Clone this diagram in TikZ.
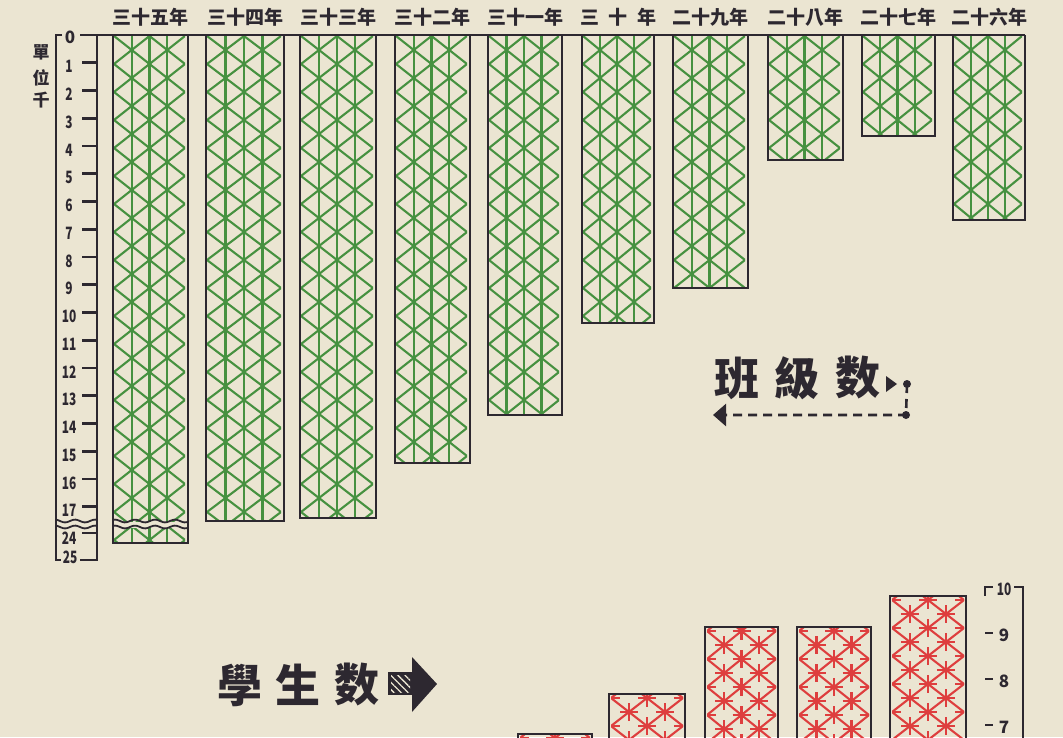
\documentclass[tikz,border=0pt]{standalone}
\usepackage{fontspec}
\usepackage{graphicx}
\setmainfont{Noto Sans CJK TC}
\usetikzlibrary{arrows.meta,patterns.meta}

\definecolor{paper}{RGB}{235,229,210}
\definecolor{ink}{RGB}{45,40,48}
\definecolor{leaf}{RGB}{70,145,64}
\definecolor{brick}{RGB}{222,62,62}

\tikzset{
	frame/.style={ink, line width=2.8pt},
	gline/.style={leaf, line width=2.1pt},
	rline/.style={brick, line width=2.1pt},
	year/.style={font=\fontsize{19}{19}\selectfont\bfseries, text=ink, inner sep=0pt},
	num/.style={font=\fontsize{17}{17}\selectfont\bfseries, text=ink, inner sep=0pt},
	big/.style={font=\fontsize{45}{45}\selectfont\bfseries, text=ink, inner sep=0pt},
}

\begin{document}
\begin{tikzpicture}[x=1pt,y=-1pt]
\clip (0,0) rectangle (1063,737);
\fill[paper] (0,0) rectangle (1063,737);

% green bars
\foreach \x/\xr/\yb/\lab [count=\i] in {
	113/188/543/三十五年,206/284/521/三十四年,300/376/518/三十三年,%
	395/470/463/三十二年,488/562/415/三十一年,%
	582/654/323/三\hspace{.5em}十\hspace{.5em}年,%
	673/748/288/二十九年,768/843/160/二十八年,862/935/136/二十七年,%
	953/1025/220/二十六年%
}{
	\begin{scope}
		\clip (\x+1,35) rectangle (\xr-3,\yb);
		\foreach \k in {-2,...,18}{
			\draw[gline] (\x+1,{36+28*\k}) -- (\xr-3,{92+28*\k});
			\draw[gline] (\xr-3,{36+28*\k}) -- (\x+1,{92+28*\k});
		}
		\foreach \c in {1,2,3}{
			\draw[gline] ({\x+1+\c*(\xr-\x-4)/4},35) -- ({\x+1+\c*(\xr-\x-4)/4},\yb);
		}
	\end{scope}
	\draw[frame] (\x,35) -- (\x,\yb) -- (\xr,\yb) -- (\xr,35);
	\node[year] (y\i) at ({(\x+\xr)/2},17) {\lab};
}

% break in the first bar
\fill[paper] (114,522) rectangle (187,528);
\foreach \w in {521,527}{
	\draw[ink, line width=1.8pt] plot[domain=113:188, samples=40, smooth] (\x,{\w+1.4*sin(\x*18)});
	\draw[ink, line width=1.8pt] plot[domain=56:97, samples=24, smooth] (\x,{\w+1.4*sin(\x*18)});
}

% scale of the green bars
\draw[frame] (62,35) -| (56,560) -- (61,560);
\draw[frame] (80,35) -- (1025,35);
\draw[frame] (97,35) -- (97,560) -- (80,560);
\node[num] (n0) at (70,37) {0};
\foreach \v in {1,...,17}{
	\draw[frame] (82,{35+27.75*\v}) -- (97,{35+27.75*\v});
	\node[num] (n\v) at (69,{39+27.75*\v}) {\scalebox{.7}[1]{\v}};
}
\draw[frame] (82,533) -- (97,533);
\node[num] (n24) at (69,538) {\scalebox{.7}[1]{24}};
\node[num] (n25) at (70,557) {\scalebox{.7}[1]{25}};

\node[num] (u1) at (41,52) {單};
\node[num] (u2) at (41,78) {位};
\node[num] (u3) at (41,100) {千};

% red bars
\foreach \x/\xr/\yt [count=\i] in {
	518/592/734,609/685/694,705/778/627,797/871/627,890/966/596%
}{
	\begin{scope}
		\clip (\x+2,\yt) rectangle (\xr-2,740);
		\foreach \k in {-2,...,6}{
			\draw[rline] (\x+2,{\yt+4+28*\k}) -- (\xr-2,{\yt+60+28*\k});
			\draw[rline] (\xr-2,{\yt+4+28*\k}) -- (\x+2,{\yt+60+28*\k});
			\foreach \c in {0,...,4}{
				\pgfmathsetmacro\sx{\x+2+\c*(\xr-\x-4)/4}
				\pgfmathsetmacro\sy{\yt+4+28*\k+14*mod(\c,2)}
				\draw[rline] (\sx-9,\sy) -- (\sx+9,\sy);
			}
			\foreach \c in {1,2,3}{
				\pgfmathsetmacro\sx{\x+2+\c*(\xr-\x-4)/4}
				\pgfmathsetmacro\sy{\yt+4+28*\k+14*mod(\c,2)}
				\draw[rline] (\sx,\sy-9) -- (\sx,\sy+9);
			}
		}
	\end{scope}
	\draw[frame] (\x,745) -- (\x,\yt) -- (\xr,\yt) -- (\xr,745);
}

% scale of the red bars
\draw[frame] (993,587) -- (985,587) -- (985,596);
\draw[frame] (1014,587) -- (1023,587) -- (1023,745);
\node[num] (r10) at (1004,589) {\scalebox{.7}[1]{10}};
\foreach \v in {9,8,7}{
	\draw[frame] (985,{587+46*(10-\v)}) -- (993,{587+46*(10-\v)});
	\node[num] (r\v) at (1004,{589+46*(10-\v)}) {\v};
}

% legend: classes
\foreach \ch/\px [count=\i] in {班/737,級/797,数/858}{
	\node[big] (k\i) at (\px,378) {\ch};
}
\fill[ink] (886,376) -- (897,384) -- (886,392) -- cycle;
\coordinate (kd) at (907,384);
\coordinate (kc) at (906,415);
\coordinate (kl) at (713,415);
\fill[ink] (kd) circle (4pt);
\fill[ink] (kc) circle (4pt);
\draw[ink, line width=2.6pt, dash pattern=on 9pt off 6pt,
	-{Triangle[length=13pt,width=22pt]}] (kd) -- (kc) -- (kl);

% legend: students
\foreach \ch/\px [count=\i] in {學/240,生/298,数/357}{
	\node[big] (s\i) at (\px,685) {\ch};
}
\fill[ink] (388,672) rectangle (413,695);
\path[pattern={Lines[angle=-45,distance=5pt,line width=1.3pt]}, pattern color=paper]
	(391,675) rectangle (410,692);
\fill[ink] (412,657) -- (437,684) -- (412,712) -- cycle;

\end{tikzpicture}
\end{document}
